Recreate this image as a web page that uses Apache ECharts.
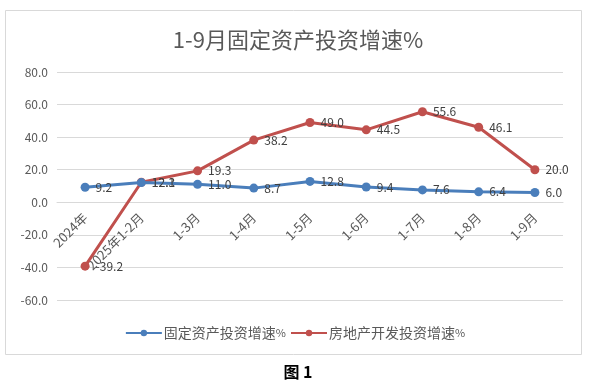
<!DOCTYPE html>
<html><head><meta charset="utf-8">
<script src="https://cdn.jsdelivr.net/npm/echarts@6/dist/echarts.min.js"></script>
<style>html,body{margin:0;padding:0;background:#fff}#c{width:590px;height:386px}</style>
</head><body><div id="c"></div>
<script>
const categories = ['2024年','2025年1-2月','1-3月','1-4月','1-5月','1-6月','1-7月','1-8月','1-9月'];
const fixedAsset = [9.2, 12.1, 11.0, 8.7, 12.8, 9.4, 7.6, 6.4, 6.0];
const realEstate = [-39.2, 12.3, 19.3, 38.2, 49.0, 44.5, 55.6, 46.1, 20.0];
const seriesNames = ['固定资产投资增速%', '房地产开发投资增速%'];
const yTicks = {min: -60, max: 80, interval: 20};

const gridTop = 72, gridBottom = 86, chartH = 386;
// move the category axis onto the zero line of the value axis
const zeroOffset = -((chartH - gridTop - gridBottom) * (0 - yTicks.min) / (yTicks.max - yTicks.min));

const chart = echarts.init(document.getElementById('c'), null, {renderer: 'canvas'});
const lbl = {show: true, position: 'right', distance: 6, color: '#404040', fontSize: 12,
  fontFamily: 'Noto Sans CJK SC', formatter: p => p.value.toFixed(1)};
chart.setOption({
  animation: false,
  backgroundColor: '#fff',
  title: [
    {text: '1-9月固定资产投资增速%', left: 293, top: 24, textAlign: 'center',
     textStyle: {fontSize: 22, fontWeight: 'normal', color: '#595959', fontFamily: 'Noto Sans CJK SC'}},
    {text: '图 1', left: 293, top: 359, textAlign: 'center',
     textStyle: {fontSize: 16, fontWeight: 'bold', color: '#000', fontFamily: 'Noto Sans CJK SC'}}
  ],
  graphic: [{type: 'rect', shape: {x: 5.5, y: 10.5, width: 576, height: 344},
    style: {fill: 'none', stroke: '#d9d9d9', lineWidth: 1}, silent: true, z: -1}],
  legend: {
    top: 321, left: 'center', itemWidth: 36, itemHeight: 8, itemGap: 4,
    formatter: n => '{a|' + n.replace('%', '') + '}{b|%}',
    textStyle: {fontSize: 14, color: '#595959', fontFamily: 'Noto Sans CJK SC', padding: [0, 0, 0, -3],
      rich: {a: {fontSize: 14, color: '#595959', fontFamily: 'Noto Sans CJK SC'},
             b: {fontSize: 11, color: '#595959', fontFamily: 'Noto Sans CJK SC'}}},
    data: seriesNames
  },
  grid: {left: 57, right: 27, top: gridTop, bottom: gridBottom},
  xAxis: {
    type: 'category', data: categories, boundaryGap: true, offset: zeroOffset,
    axisLine: {onZero: false, lineStyle: {color: '#d9d9d9'}},
    axisTick: {show: false},
    axisLabel: {rotate: 45, margin: 13, fontSize: 13, color: '#595959', fontFamily: 'Noto Sans CJK SC', interval: 0}
  },
  yAxis: {
    type: 'value', min: yTicks.min, max: yTicks.max, interval: yTicks.interval,
    axisLine: {show: false}, axisTick: {show: false},
    splitLine: {lineStyle: {color: '#d9d9d9'}},
    axisLabel: {formatter: v => v.toFixed(1), fontSize: 12, color: '#595959', margin: 9, fontFamily: 'Noto Sans CJK SC'}
  },
  series: [
    {name: seriesNames[0], type: 'line', data: fixedAsset, symbol: 'circle', symbolSize: 9,
     lineStyle: {width: 3, color: '#4a7ebb'}, itemStyle: {color: '#4a7ebb'}, label: lbl, z: 3},
    {name: seriesNames[1], type: 'line', data: realEstate, symbol: 'circle', symbolSize: 9,
     lineStyle: {width: 3, color: '#c0504d'}, itemStyle: {color: '#c0504d'}, label: lbl, z: 2}
  ]
});
</script></body></html>
